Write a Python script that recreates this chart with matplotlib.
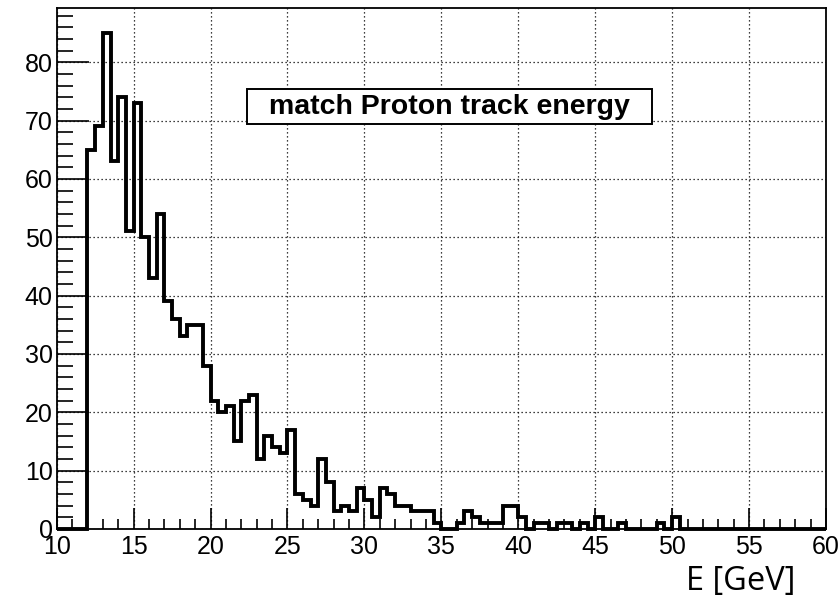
import numpy as np
import matplotlib
matplotlib.use("Agg")
import matplotlib.pyplot as plt
from matplotlib.patches import Rectangle
from matplotlib.ticker import MultipleLocator

# Histogram binning: 100 bins of 0.5 GeV from 10 to 60 GeV
x_min, x_max, bin_width = 10.0, 60.0, 0.5

# Entries per bin, from the first bin (10.0-10.5 GeV) to the last (59.5-60.0 GeV)
counts = [
    0, 0, 0, 0,                      # 10.0 - 12.0
    65, 69, 85, 63, 74, 51, 73, 50,  # 12.0 - 16.0
    43, 54, 39, 36, 33, 35, 35, 28,  # 16.0 - 20.0
    22, 20, 21, 15, 22, 23, 12, 16,  # 20.0 - 24.0
    14, 13, 17, 6, 5, 4, 12, 8,      # 24.0 - 28.0
    3, 4, 3, 7, 5, 2, 7, 6,          # 28.0 - 32.0
    4, 4, 3, 3, 3, 1, 0, 0,          # 32.0 - 36.0
    1, 3, 2, 1, 1, 1, 4, 4,          # 36.0 - 40.0
    2, 0, 1, 1, 0, 1, 1, 0,          # 40.0 - 44.0
    1, 0, 2, 0, 0, 1, 0, 0,          # 44.0 - 48.0
    0, 0, 1, 0, 2, 0, 0, 0,          # 48.0 - 52.0
    0, 0, 0, 0, 0, 0, 0, 0,          # 52.0 - 56.0
    0, 0, 0, 0, 0, 0, 0, 0,          # 56.0 - 60.0
]

x_ticks = [10, 15, 20, 25, 30, 35, 40, 45, 50, 55, 60]
y_ticks = [0, 10, 20, 30, 40, 50, 60, 70, 80]
title_text = "match Proton track energy"
x_label = "E [GeV]"

edges = np.arange(x_min, x_max + bin_width / 2, bin_width)
values = np.asarray(counts, dtype=float)
y_max = 1.05 * values.max()

W, H = 839, 598
fig = plt.figure(figsize=(W / 100, H / 100), dpi=100)
fig.patch.set_facecolor("white")

# Frame in pixel units
left_px, right_px, top_px, bottom_px = 56.7, 826.0, 8.3, 529.0
ax = fig.add_axes([left_px / W, 1 - bottom_px / H,
                   (right_px - left_px) / W, (bottom_px - top_px) / H])

ax.set_xlim(x_min, x_max)
ax.set_ylim(0, y_max)

# Dotted grid at the major ticks
ax.set_xticks(x_ticks)
ax.set_yticks(y_ticks)
ax.xaxis.set_minor_locator(MultipleLocator(1))
ax.yaxis.set_minor_locator(MultipleLocator(2))
ax.grid(True, which="major", color="black", linestyle=(0, (1, 2.2)), linewidth=0.9)
ax.set_axisbelow(True)

# Histogram outline
ax.stairs(values, edges, color="black", linewidth=2.8, baseline=0,
          clip_on=False, zorder=3)

for side in ax.spines.values():
    side.set_linewidth(1.3)
    side.set_color("black")
    side.set_zorder(4)

tick_font = {"family": ["Liberation Sans", "DejaVu Sans"], "size": 18}
ax.tick_params(axis="x", which="major", direction="in", length=15, width=1.2,
               pad=4, top=False)
ax.tick_params(axis="x", which="minor", direction="in", length=7.5, width=1.2,
               top=False)
ax.tick_params(axis="y", which="major", direction="in", length=23, width=1.2,
               pad=3, right=False)
ax.tick_params(axis="y", which="minor", direction="in", length=11.5, width=1.2,
               right=False)
ax.set_xticklabels([str(t) for t in x_ticks], fontdict=tick_font)
ax.set_yticklabels([str(t) for t in y_ticks], fontdict=tick_font)

# Title pave
box_x0, box_x1 = (247.3 - left_px) / (right_px - left_px), (651.7 - left_px) / (right_px - left_px)
box_y0, box_y1 = (bottom_px - 124.3) / (bottom_px - top_px), (bottom_px - 89.0) / (bottom_px - top_px)
ax.add_patch(Rectangle((box_x0, box_y0), box_x1 - box_x0, box_y1 - box_y0,
                       transform=ax.transAxes, facecolor="white",
                       edgecolor="black", linewidth=1.4, zorder=5))
ax.text((box_x0 + box_x1) / 2, (box_y0 + box_y1) / 2, title_text,
        transform=ax.transAxes, ha="center", va="center",
        fontsize=20.5, fontweight="bold",
        family=["Liberation Sans", "DejaVu Sans"], zorder=6)

# Axis title below the right end of the x axis
fig.text(686 / W, 1 - 590 / H, x_label, ha="left", va="baseline",
         fontsize=23.5, family=["Open Sans", "DejaVu Sans"], color="black")

fig.savefig("out.png", dpi=100, facecolor="white")
